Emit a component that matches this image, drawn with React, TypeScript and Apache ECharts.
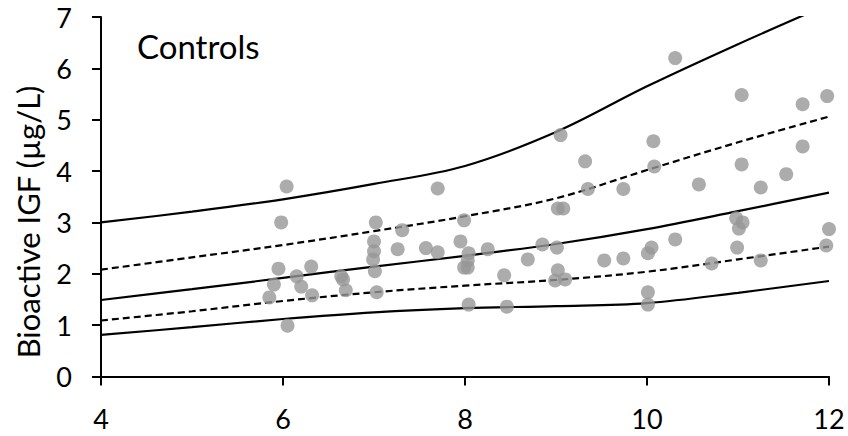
import React, { useEffect, useRef } from "react";
import * as echarts from "echarts";

// Scatter: age (years) vs bioactive IGF (µg/L), controls
const controlAge = [
  6.04, 5.98, 5.95, 5.9, 5.85, 6.05, 6.15, 6.2, 6.31, 6.32, 6.64, 6.66, 6.69,
  7.02, 7.0, 7.0, 6.99, 7.01, 7.03, 7.31, 7.26, 7.57, 7.7, 7.7, 7.99, 7.95,
  8.04, 8.03, 7.99, 8.03, 8.04, 8.25, 8.43, 8.46, 8.69, 8.85, 9.01, 9.02, 8.99,
  9.1, 9.02, 9.08, 9.05, 9.32, 9.35, 9.74, 9.53, 9.74, 10.07, 10.08, 10.05,
  10.01, 10.01, 10.01, 10.31, 10.31, 10.57, 10.71, 11.04, 11.04, 10.98, 11.05,
  11.01, 10.99, 11.25, 11.25, 11.53, 11.71, 11.71, 11.98, 11.97, 12.0,
];
const controlIGF = [
  3.7, 3.0, 2.1, 1.79, 1.54, 0.99, 1.95, 1.75, 2.14, 1.58, 1.95, 1.89, 1.68,
  3.0, 2.63, 2.44, 2.28, 2.05, 1.64, 2.85, 2.48, 2.5, 2.42, 3.66, 3.04, 2.63,
  2.4, 2.26, 2.12, 2.12, 1.4, 2.48, 1.97, 1.36, 2.28, 2.57, 2.51, 2.07, 1.87,
  1.89, 3.27, 3.27, 4.7, 4.19, 3.65, 3.65, 2.26, 2.3, 4.58, 4.09, 2.51, 2.4,
  1.64, 1.4, 6.2, 2.67, 3.74, 2.2, 5.48, 4.13, 3.08, 3.0, 2.88, 2.51, 3.68,
  2.26, 3.94, 5.3, 4.48, 5.46, 2.55, 2.87,
];

// Reference curves (percentiles)
const curveAge = [4, 5, 6, 7, 8, 9, 10, 11, 12];
const p975 = [3.0, 3.21, 3.45, 3.75, 4.1, 4.76, 5.65, 6.47, 7.25];
const p75 = [2.08, 2.32, 2.56, 2.83, 3.12, 3.47, 4.02, 4.56, 5.06];
const p50 = [1.49, 1.7, 1.92, 2.14, 2.35, 2.58, 2.87, 3.22, 3.58];
const p25 = [1.09, 1.27, 1.47, 1.64, 1.77, 1.88, 2.04, 2.28, 2.53];
const p025 = [0.81, 0.96, 1.12, 1.25, 1.33, 1.37, 1.43, 1.63, 1.86];

const xTicks = [4, 6, 8, 10, 12];
const yTicks = [0, 1, 2, 3, 4, 5, 6, 7];

const FONT = "Lato, 'Open Sans', sans-serif";

export default function App() {
  const ref = useRef<HTMLDivElement>(null);
  useEffect(() => {
    document.body.style.margin = "0";
    if (!ref.current) return;
    const chart = echarts.init(ref.current, undefined, { renderer: "svg" });
    const pair = (ys: number[]) => curveAge.map((x, i) => [x, ys[i]]);
    const curve = (name: string, ys: number[], dashed: boolean) => ({
      name,
      type: "line",
      data: pair(ys),
      smooth: 0.35,
      showSymbol: false,
      symbol: "none",
      clip: true,
      lineStyle: {
        color: "#000",
        width: 2.2,
        type: dashed ? [7, 4] : "solid",
      },
      z: 2,
    });
    chart.setOption({
      animation: false,
      textStyle: { fontFamily: FONT },
      grid: { left: 101, right: 19, top: 17, bottom: 59.5 },
      xAxis: {
        type: "value",
        min: xTicks[0],
        max: xTicks[xTicks.length - 1],
        interval: 2,
        axisLine: { lineStyle: { color: "#000", width: 2 } },
        axisTick: { show: true, length: 9, lineStyle: { color: "#000", width: 2 } },
        axisLabel: { color: "#000", fontSize: 27, fontFamily: FONT, margin: 28 },
        splitLine: { show: false },
      },
      yAxis: {
        type: "value",
        min: yTicks[0],
        max: yTicks[yTicks.length - 1],
        interval: 1,
        axisLine: { show: true, lineStyle: { color: "#000", width: 2 } },
        axisTick: { show: true, length: 9, lineStyle: { color: "#000", width: 2 } },
        axisLabel: { color: "#000", fontSize: 27, fontFamily: FONT, margin: 29 },
        splitLine: { show: false },
      },
      graphic: [
        {
          type: "text",
          x: 137,
          y: 46,
          style: {
            text: "Controls",
            fill: "#000",
            fontSize: 33,
            fontFamily: FONT,
            verticalAlign: "middle",
            align: "left",
          },
        },
        {
          type: "text",
          x: 28,
          y: 222,
          rotation: Math.PI / 2,
          style: {
            text: "Bioactive IGF (µg/L)",
            fill: "#000",
            fontSize: 31,
            fontFamily: FONT,
            verticalAlign: "middle",
            align: "center",
          },
        },
      ],
      series: [
        curve("97.5th", p975, false),
        curve("75th", p75, true),
        curve("50th", p50, false),
        curve("25th", p25, true),
        curve("2.5th", p025, false),
        {
          name: "Controls",
          type: "scatter",
          data: controlAge.map((x, i) => [x, controlIGF[i]]),
          symbol: "circle",
          symbolSize: 14,
          itemStyle: { color: "#979797" },
          z: 3,
        },
      ],
    });
    return () => chart.dispose();
  }, []);
  return <div ref={ref} style={{ width: 848, height: 436 }} />;
}
